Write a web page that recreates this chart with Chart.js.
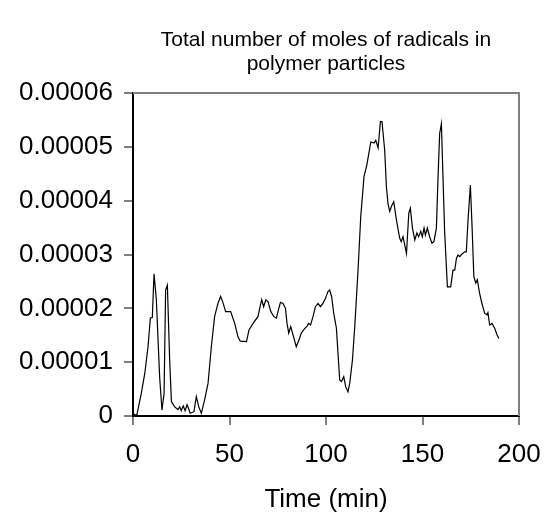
<!DOCTYPE html>
<html>
<head>
<meta charset="utf-8">
<script src="https://cdn.jsdelivr.net/npm/chart.js@4.4.0/dist/chart.umd.min.js"></script>
<style>
  html, body { margin: 0; padding: 0; background: #fff; }
  #wrap { width: 551px; height: 518px; position: relative; }
</style>
</head>
<body>
<div id="wrap"><canvas id="myChart"></canvas></div>
<script>
// time (min) and total moles of radicals
var times = [0, 1, 2, 4.3, 6.1, 7.8, 9, 10, 10.9, 12.1, 13.8, 15, 16.1, 16.9, 17.8, 19, 19.9,
    21.6, 23.3, 24.2, 25, 26, 27, 28, 28.8, 29.6, 31.6, 32.8, 34.1, 35.4, 37.1, 38.9, 40.6,
    42.3, 44, 45.4, 46.5, 48, 50.6, 52.7, 54.4, 55.6, 58.8, 60.1, 62.2, 64.8, 66, 66.7, 67.7,
    68.8, 70, 71.4, 72.9, 74.3, 75.1, 76.4, 77.7, 79, 79.8, 80.7, 81.7, 82.9, 84.6, 86, 87.2,
    88.6, 90.2, 91, 92, 93.3, 94.5, 95.9, 97.1, 98.4, 99.8, 101, 101.9, 102.9, 104, 105.4,
    106.2, 107.1, 108, 109.2, 110.2, 111.4, 112.3, 113.7, 114.9, 116.6, 118, 119.7, 121.2,
    123.2, 124.9, 125.8, 127, 128.2, 129, 130.4, 131.3, 132.1, 133, 134.2, 135.1, 136.5,
    138.2, 139, 139.9, 141.7, 142.9, 143.7, 144.8, 146, 147.1, 148, 149.1, 149.9, 150.8,
    151.5, 152.5, 153.7, 154.9, 155.9, 157.2, 158, 158.9, 159.8, 160.6, 161.5, 162.9, 164.6,
    165.8, 166.7, 167.6, 168.4, 169.3, 170.5, 171.9, 172.7, 173.6, 174.8, 175.7, 176.6,
    177.6, 178.4, 179.6, 180.8, 182.2, 183.4, 183.9, 184.8, 186, 187.4, 188.6, 189.6];

var moles = [5e-7, 2e-7, 2e-7, 4.2e-6, 7.9e-6, 1.29e-5, 1.82e-5, 1.83e-5, 2.64e-5, 2.16e-5,
    7.3e-6, 1.1e-6, 4.2e-6, 2.34e-5, 2.43e-5, 1.04e-5, 2.7e-6,
    1.7e-6, 1.2e-6, 1.7e-6, 1.0e-6, 1.9e-6, 1.0e-6, 2.1e-6, 1.4e-6, 5e-7, 8e-7, 3.6e-6, 1.7e-6,
    5e-7, 3.0e-6, 6.1e-6, 1.29e-5,
    1.85e-5, 2.09e-5, 2.22e-5, 2.12e-5, 1.94e-5, 1.94e-5, 1.72e-5, 1.47e-5, 1.39e-5, 1.38e-5,
    1.60e-5, 1.72e-5, 1.85e-5, 2.06e-5, 2.16e-5, 2.03e-5,
    2.16e-5, 2.12e-5, 1.94e-5, 1.85e-5, 1.82e-5, 1.94e-5, 2.11e-5, 2.09e-5, 2.00e-5, 1.72e-5,
    1.54e-5, 1.66e-5, 1.51e-5, 1.29e-5, 1.41e-5, 1.54e-5,
    1.61e-5, 1.67e-5, 1.72e-5, 1.69e-5, 1.85e-5, 2.03e-5, 2.09e-5, 2.03e-5, 2.09e-5, 2.19e-5,
    2.31e-5, 2.34e-5, 2.22e-5, 1.91e-5, 1.63e-5,
    1.17e-5, 6.7e-6, 6.4e-6, 7.3e-6, 5.4e-6, 4.5e-6, 6.1e-6, 1.04e-5, 1.66e-5, 2.71e-5,
    3.70e-5, 4.45e-5, 4.67e-5,
    5.09e-5, 5.07e-5, 5.12e-5, 4.98e-5, 5.47e-5, 5.47e-5, 4.94e-5, 4.26e-5, 3.95e-5, 3.80e-5,
    3.92e-5, 3.98e-5, 3.64e-5,
    3.30e-5, 3.24e-5, 3.33e-5, 3.02e-5, 3.77e-5, 3.86e-5, 3.49e-5, 3.27e-5, 3.40e-5, 3.33e-5,
    3.43e-5, 3.33e-5, 3.49e-5,
    3.36e-5, 3.49e-5, 3.33e-5, 3.21e-5, 3.24e-5, 3.49e-5, 4.39e-5, 5.25e-5, 5.43e-5, 4.45e-5,
    3.40e-5, 2.40e-5, 2.40e-5,
    2.71e-5, 2.71e-5, 2.93e-5, 2.99e-5, 2.96e-5, 3.01e-5, 3.05e-5, 3.05e-5, 3.64e-5, 4.29e-5,
    3.50e-5, 2.59e-5,
    2.47e-5, 2.53e-5, 2.28e-5, 2.09e-5, 1.91e-5, 1.88e-5, 1.92e-5, 1.69e-5, 1.72e-5, 1.63e-5,
    1.51e-5, 1.44e-5];

var titleLines = ['Total number of moles of radicals in', 'polymer particles'];
var xTitle = 'Time (min)';

var FONT = '"Liberation Sans", Arial, sans-serif';

// grey top and right edges of the plot box
var frame = {
    id: 'frame',
    beforeDatasetsDraw: function (chart) {
        var a = chart.chartArea, c = chart.ctx;
        c.save();
        c.strokeStyle = '#808080';
        c.lineWidth = 2;
        c.beginPath();
        c.moveTo(a.left, a.top);
        c.lineTo(a.right, a.top);
        c.lineTo(a.right, a.bottom);
        c.stroke();
        c.restore();
    }
};

var points = times.map(function (t, i) { return { x: t, y: moles[i] }; });

var ctx = document.getElementById('myChart').getContext('2d');
var chart = new Chart(ctx, {
    type: 'scatter',
    data: {
        datasets: [{
            data: points,
            showLine: true,
            borderColor: '#000',
            borderWidth: 1.2,
            pointRadius: 0,
            tension: 0
        }]
    },
    options: {
        responsive: true,
        maintainAspectRatio: false,
        animation: false,
        layout: { padding: { left: 0, right: 32, top: 0, bottom: 0 } },
        plugins: {
            legend: { display: false },
            tooltip: { enabled: false },
            title: {
                display: true,
                text: titleLines,
                fullSize: false,
                color: '#000',
                font: { family: FONT, size: 21, weight: 'normal', lineHeight: 24 / 21 },
                padding: { top: 28, bottom: 17 }
            }
        },
        scales: {
            x: {
                type: 'linear',
                min: 0,
                max: 200,
                afterFit: function (scale) {
                    scale.height = 102;
                    scale.paddingRight = 0; // let "200" hang into the right margin
                },
                ticks: {
                    stepSize: 50,
                    color: '#000',
                    padding: 14,
                    maxRotation: 0,
                    font: { family: FONT, size: 26 }
                },
                grid: { drawOnChartArea: false, tickLength: 9, color: '#808080', lineWidth: 2 },
                border: { color: '#000', width: 2 },
                title: {
                    display: true,
                    text: xTitle,
                    color: '#000',
                    font: { family: FONT, size: 26 },
                    padding: { top: 0, bottom: 3 }
                }
            },
            y: {
                min: 0,
                max: 0.00006,
                afterFit: function (scale) { scale.width = 133; },
                ticks: {
                    stepSize: 0.00001,
                    color: '#000',
                    padding: 11,
                    font: { family: FONT, size: 26 },
                    callback: function (v) { return v === 0 ? '0' : v.toFixed(5); }
                },
                grid: { drawOnChartArea: false, tickLength: 9, color: '#808080', lineWidth: 2 },
                border: { color: '#000', width: 2 }
            }
        }
    },
    plugins: [frame]
});
</script>
</body>
</html>
